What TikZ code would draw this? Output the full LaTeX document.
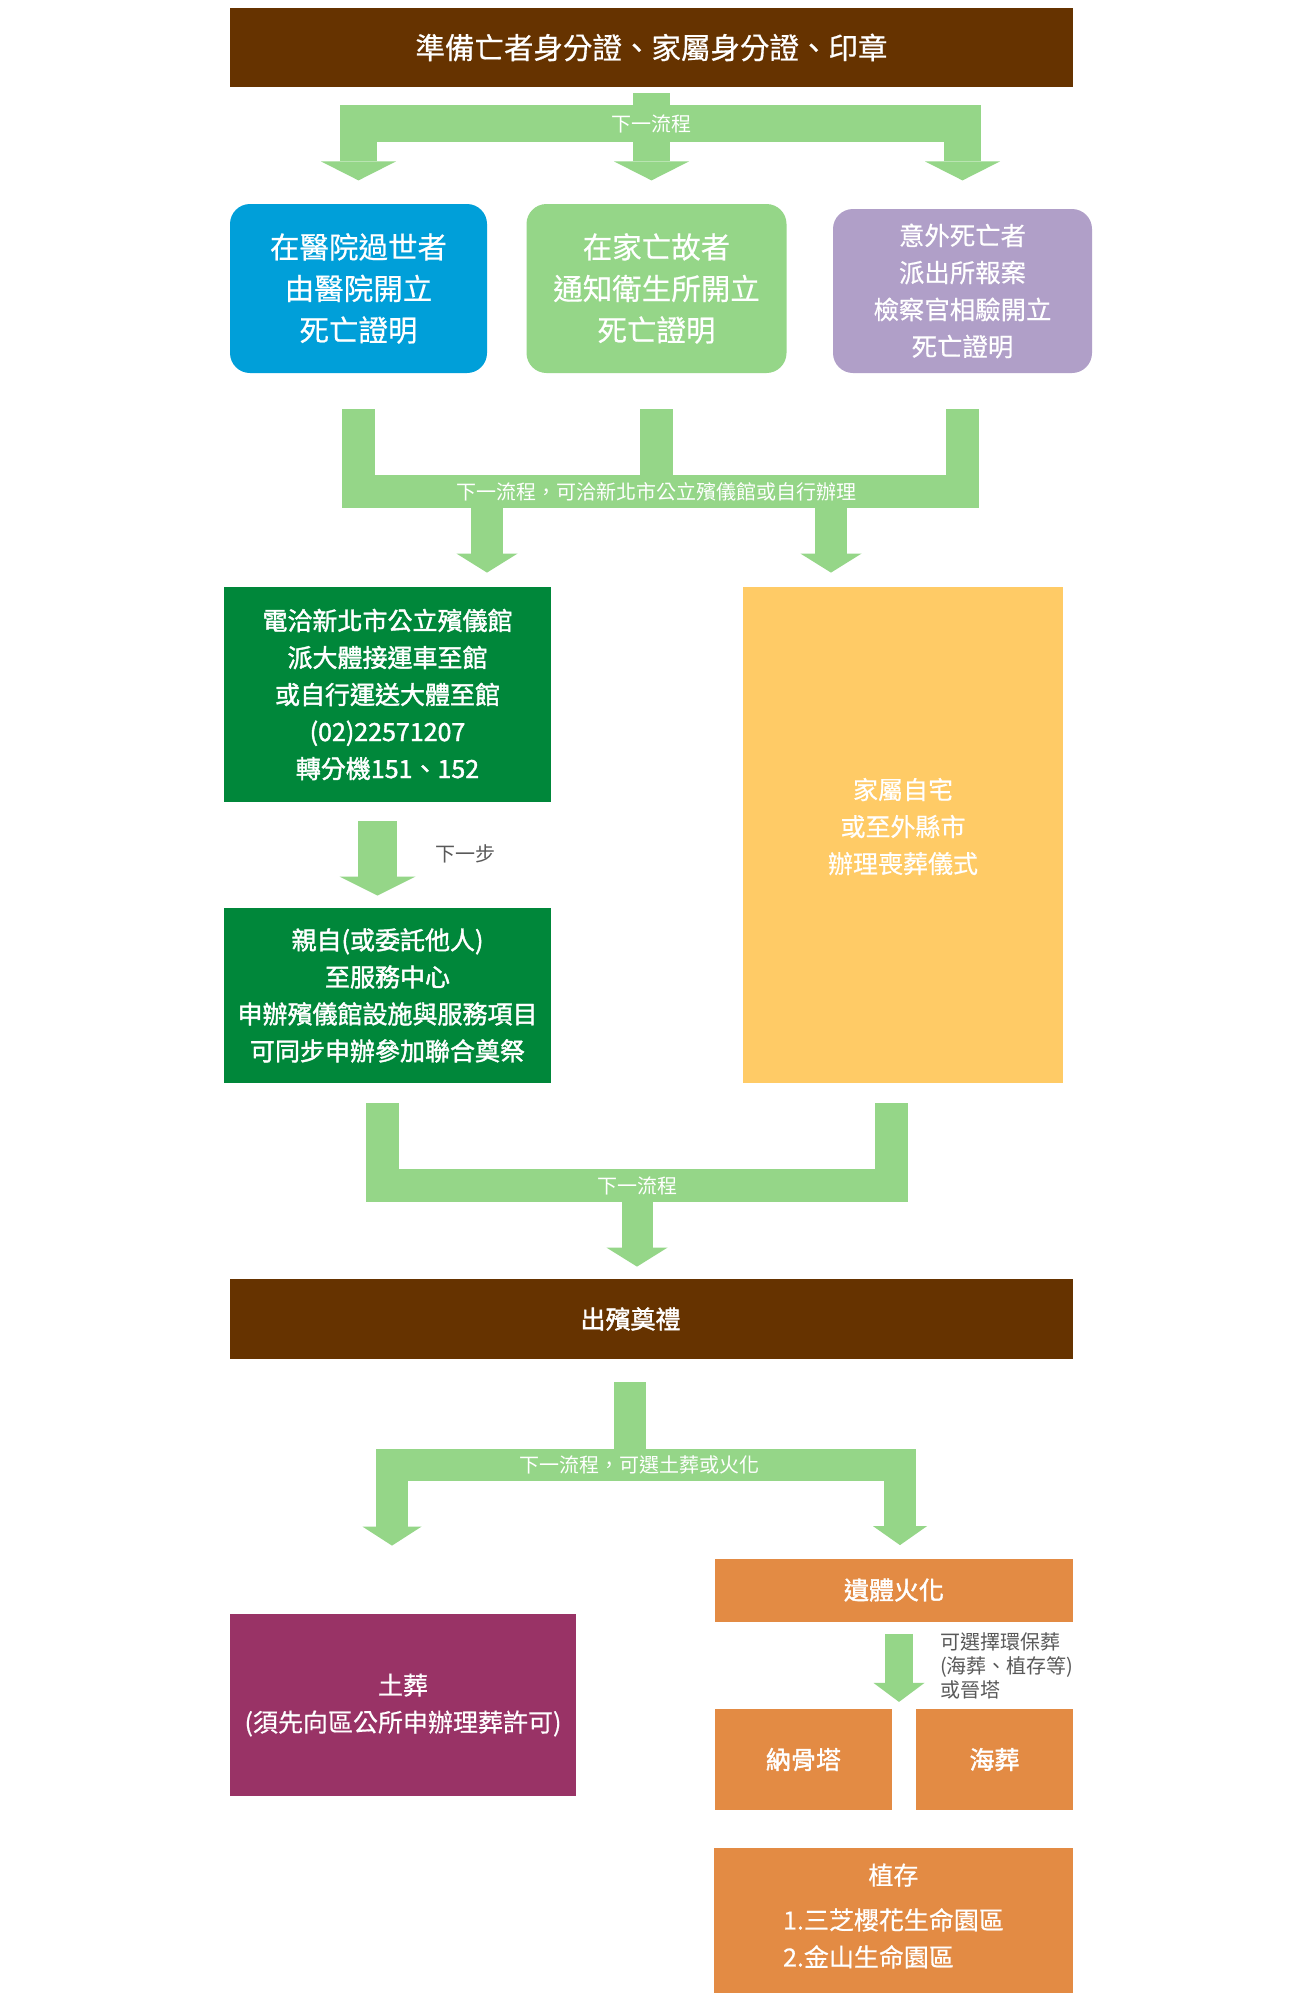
\documentclass[tikz,border=0pt]{standalone}
\usepackage{fontspec}
\setmainfont{Noto Sans CJK TC}[FakeBold=0.5]
\newfontfamily\semifont{Noto Sans CJK TC}[FakeBold=1.6]
\newfontfamily\thinfont{Noto Sans CJK TC}
\usepackage{xcolor}
\usepackage{tikz}
\usetikzlibrary{calc,arrows.meta,positioning}
\definecolor{deepbrown}{HTML}{663300}
\definecolor{flowgreen}{HTML}{95D688}
\definecolor{skyblue}{HTML}{009FD9}
\definecolor{lilac}{HTML}{B09FC8}
\definecolor{forest}{HTML}{00873A}
\definecolor{sand}{HTML}{FFCB66}
\definecolor{plum}{HTML}{993366}
\definecolor{tangerine}{HTML}{E38B44}
\definecolor{notegray}{HTML}{595959}
\tikzset{
  box/.style={text=white, align=center, inner sep=0pt, font=\fontsize{12.5}{18.5}\selectfont},
  roundbox/.style={box, rounded corners=10pt},
  bigtext/.style={font=\fontsize{14.75}{20.75}\selectfont},
  boldtext/.style={font=\fontsize{12.5}{18.5}\semifont},
  flowbar/.style={draw=flowgreen, line width=#1, line join=miter},
  flowbar/.default=16.5pt,
  flowarr/.style 2 args={flowbar=#1, -{Triangle[width=#2, length=9.5pt, line width=0pt]}},
  flowlab/.style={text=white, font=\fontsize{10}{12}\thinfont},
  notelab/.style={text=notegray, font=\fontsize{10}{12}\thinfont, align=left}
}

\begin{document}
\begin{tikzpicture}[x=0.5pt, y=-0.5pt]
  \fill[white] (0,0) rectangle (1300,2008);
  \useasboundingbox (0,0) rectangle (1300,2008);

  % boxes
  \node[box, bigtext, fill=deepbrown, minimum width=421.5pt, minimum height=39.5pt] (prep) at (651.5,47.5) {準備亡者身分證、家屬身分證、印章};
  \node[roundbox, bigtext, fill=skyblue, minimum width=128.5pt, minimum height=84.5pt] (hosp) at (358.5,288.5) {在醫院過世者\\由醫院開立\\死亡證明};
  \node[roundbox, bigtext, fill=flowgreen, minimum width=130pt, minimum height=84.5pt] (home) at (656.5,288.5) {在家亡故者\\通知衛生所開立\\死亡證明};
  \node[roundbox, fill=lilac, minimum width=129.5pt, minimum height=82pt, font=\fontsize{12.7}{18.5}\selectfont] (acc) at (962.5,291) {意外死亡者\\派出所報案\\檢察官相驗開立\\死亡證明};
  \node[box, boldtext, fill=forest, minimum width=163.5pt, minimum height=107.5pt] (fh) at (387.5,694.5) {電洽新北市公立殯儀館\\派大體接運車至館\\或自行運送大體至館\\(02)22571207\\轉分機151、152};
  \node[box, boldtext, fill=forest, minimum width=163.5pt, minimum height=87.5pt] (fh2) at (387.5,995.5) {親自(或委託他人)\\至服務中心\\申辦殯儀館設施與服務項目\\可同步申辦參加聯合奠祭};
  \node[box, fill=sand, minimum width=160pt, minimum height=248pt, text depth=9.5pt] (fam) at (903,835) {家屬自宅\\或至外縣市\\辦理喪葬儀式};
  \node[box, boldtext, fill=deepbrown, minimum width=421.5pt, minimum height=40pt] (rite) at (651.5,1319) {出殯奠禮\hspace*{21pt}};
  \node[box, fill=plum, minimum width=173pt, minimum height=91pt] (bur) at (403,1705) {土葬\\(須先向區公所申辦理葬許可)};
  \node[box, boldtext, fill=tangerine, minimum width=179pt, minimum height=31.5pt] (cre) at (894,1590) {遺體火化};
  \node[box, boldtext, fill=tangerine, minimum width=88.5pt, minimum height=50.5pt] (tower) at (803.5,1759.5) {納骨塔};
  \node[box, boldtext, fill=tangerine, minimum width=78.5pt, minimum height=50.5pt] (sea) at (994.5,1759.5) {海葬};
  \node[box, fill=tangerine, minimum width=179.5pt, minimum height=72.5pt] (tree) at (893.5,1920.5) {植存\\[7.5pt]\begin{tabular}{@{}l@{}}1.三芝櫻花生命園區\\2.金山生命園區\end{tabular}};

  % first split
  \coordinate (j1) at ($(prep.south)+(0,36.5)$);
  \draw[flowbar=18.5pt] ($(prep.south)+(0,6)$) -- (j1);
  \draw[flowarr={18.5pt}{37.5pt}] (j1) -| ($(j1 -| hosp.north)+(0,56.5)$);
  \draw[flowarr={18.5pt}{37.5pt}] (j1) -- ++(0,56.5);
  \draw[flowarr={18.5pt}{37.5pt}] (j1) -| ($(j1 -| acc.north)+(0,56.5)$);
  \node[flowlab] at (j1) {下一流程};

  % merge and split
  \coordinate (j2) at ($(home.south)+(0,118)$);
  \coordinate (a2l) at ($(fh.north)+(99.5,-14)$);
  \coordinate (a2r) at ($(fam.north)+(-72,-14)$);
  \draw[flowbar] ($(hosp.south)+(0,36)$) |- (j2);
  \draw[flowbar] ($(home.south)+(0,36)$) -- (j2);
  \draw[flowbar] ($(acc.south)+(0,36)$) |- (j2);
  \draw[flowarr={16pt}{30.5pt}] (j2) -| (a2l);
  \draw[flowarr={16pt}{30.5pt}] (j2) -| (a2r);
  \node[flowlab] at (j2) {下一流程，可洽新北市公立殯儀館或自行辦理};

  \draw[flowarr={19.5pt}{38pt}] ($(fh.south)+(-10,19)$) -- ($(fh2.north)+(-10,-12)$);
  \node[notelab] at ($(fh.south)+(77.5,51)$) {下一步};

  % merge
  \coordinate (j3) at ($(rite.north)+(-14.5,-93)$);
  \draw[flowbar] ($(fh2.south)+(-5.5,20)$) |- (j3);
  \draw[flowbar] ($(fam.south)+(-12,20)$) |- (j3);
  \draw[flowarr={15.5pt}{30.5pt}] (j3) -- ($(j3 |- rite.north)+(0,-12)$);
  \node[flowlab] at (j3) {下一流程};

  % burial or cremation
  \coordinate (j4) at ($(rite.south)+(-21.5,106)$);
  \coordinate (a4l) at ($(bur.north)+(-11,-68)$);
  \coordinate (a4r) at ($(cre.north)+(6,-13)$);
  \draw[flowbar=16pt] ($(rite.south)+(-21.5,23)$) -- (j4);
  \draw[flowarr={16pt}{29.5pt}] (j4) -| (a4l);
  \draw[flowarr={16pt}{27pt}] (j4) -| (a4r);
  \node[flowlab] at ($(j4)+(9,0)$) {下一流程，可選土葬或火化};

  \coordinate (c5) at ($(cre.south)+(5,80)$);
  \draw[flowarr={14pt}{25.5pt}] ($(cre.south)+(5,12)$) -- (c5);
  \node[notelab, anchor=west] at ($(cre.south)+(39,44)$) {可選擇環保葬\\(海葬、植存等)\\或晉塔};
\end{tikzpicture}
\end{document}
